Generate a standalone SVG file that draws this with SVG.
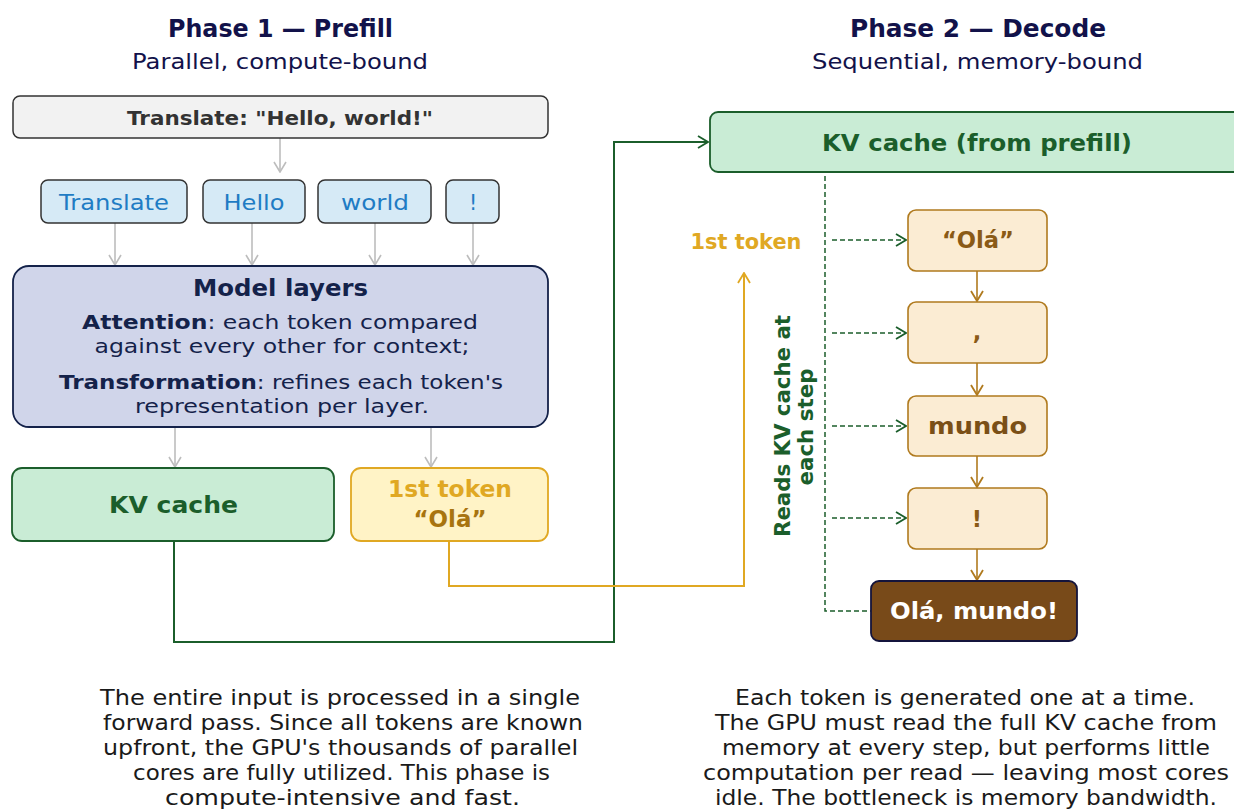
<svg xmlns="http://www.w3.org/2000/svg" width="1234" height="810" viewBox="0 0 1234 810">
  <style>
    text { font-family: "DejaVu Sans", "Noto Sans", sans-serif; text-anchor: middle; }
    .title { font-size: 24px; font-weight: bold; fill: #12124a; }
    .sub { font-size: 21px; fill: #12124a; }
    .cap { font-size: 20.5px; fill: #1a1a1a; }
    .body { font-size: 19.5px; }
    .tok { font-size: 20.5px; fill: #1f7cc4; }
    .navy { fill: #14224a; }
    .b { font-weight: bold; }
    .lbl { font-size: 22.5px; font-weight: bold; }
    .grey { stroke: #bdbdbd; stroke-width: 1.6; fill: none; }
    .green { stroke: #1b5e2b; stroke-width: 2; fill: none; }
    .gold { stroke: #e0a823; stroke-width: 2; fill: none; }
    .brown { stroke: #b07a1e; stroke-width: 1.6; fill: none; }
    .dash { stroke: #1b5e2b; stroke-width: 1.5; fill: none; stroke-dasharray: 5 3; }
  </style>
  <defs>
    <marker id="ah-grey" viewBox="0 0 12 14" refX="11" refY="7" markerWidth="12" markerHeight="14" markerUnits="userSpaceOnUse" orient="auto">
      <path d="M1,1 L11,7 L1,13" fill="none" stroke="#bdbdbd" stroke-width="1.6"/>
    </marker>
    <marker id="ah-green" viewBox="0 0 12 14" refX="11" refY="7" markerWidth="12" markerHeight="14" markerUnits="userSpaceOnUse" orient="auto">
      <path d="M1,1 L11,7 L1,13" fill="none" stroke="#1b5e2b" stroke-width="1.8"/>
    </marker>
    <marker id="ah-gold" viewBox="0 0 12 14" refX="11" refY="7" markerWidth="12" markerHeight="14" markerUnits="userSpaceOnUse" orient="auto">
      <path d="M1,1 L11,7 L1,13" fill="none" stroke="#e0a823" stroke-width="1.8"/>
    </marker>
    <marker id="ah-brown" viewBox="0 0 12 14" refX="11" refY="7" markerWidth="12" markerHeight="14" markerUnits="userSpaceOnUse" orient="auto">
      <path d="M1,1 L11,7 L1,13" fill="none" stroke="#b07a1e" stroke-width="1.8"/>
    </marker>
  </defs>

  <rect width="1234" height="810" fill="#ffffff"/>

  <!-- Headings -->
  <g id="headings">
    <text class="title" x="280.5" y="37" textLength="225" lengthAdjust="spacingAndGlyphs">Phase 1 — Prefill</text>
    <text class="sub" x="280" y="69" textLength="296" lengthAdjust="spacingAndGlyphs">Parallel, compute-bound</text>
    <text class="title" x="978" y="37" textLength="256" lengthAdjust="spacingAndGlyphs">Phase 2 — Decode</text>
    <text class="sub" x="977.5" y="69" textLength="331" lengthAdjust="spacingAndGlyphs">Sequential, memory-bound</text>
  </g>

  <!-- Connectors -->
  <g id="connectors">
    <line class="grey" x1="280" y1="138" x2="280" y2="172" marker-end="url(#ah-grey)"/>
    <line class="grey" x1="115" y1="223" x2="115" y2="265" marker-end="url(#ah-grey)"/>
    <line class="grey" x1="252" y1="223" x2="252" y2="265" marker-end="url(#ah-grey)"/>
    <line class="grey" x1="375" y1="223" x2="375" y2="265" marker-end="url(#ah-grey)"/>
    <line class="grey" x1="473" y1="223" x2="473" y2="265" marker-end="url(#ah-grey)"/>
    <line class="grey" x1="175" y1="427" x2="175" y2="467" marker-end="url(#ah-grey)"/>
    <line class="grey" x1="431" y1="427" x2="431" y2="467" marker-end="url(#ah-grey)"/>
    <!-- KV cache handed over to decode -->
    <polyline class="green" points="174,541 174,642 614,642 614,142 708,142" marker-end="url(#ah-green)"/>
    <!-- first token handed over to decode -->
    <polyline class="gold" points="449,541 449,586 744,586 744,273" marker-end="url(#ah-gold)"/>
    <!-- KV cache reads per step -->
    <polyline class="dash" points="825,176 825,611 871,611"/>
    <line class="dash" x1="832" y1="240" x2="906" y2="240" marker-end="url(#ah-green)"/>
    <line class="dash" x1="832" y1="333" x2="906" y2="333" marker-end="url(#ah-green)"/>
    <line class="dash" x1="832" y1="426" x2="906" y2="426" marker-end="url(#ah-green)"/>
    <line class="dash" x1="832" y1="518" x2="906" y2="518" marker-end="url(#ah-green)"/>
    <!-- decode chain -->
    <line class="brown" x1="977" y1="271" x2="977" y2="301" marker-end="url(#ah-brown)"/>
    <line class="brown" x1="977" y1="363" x2="977" y2="395" marker-end="url(#ah-brown)"/>
    <line class="brown" x1="977" y1="456" x2="977" y2="487" marker-end="url(#ah-brown)"/>
    <line class="brown" x1="977" y1="549" x2="977" y2="580" marker-end="url(#ah-brown)"/>
  </g>

  <!-- Prefill nodes -->
  <g id="input">
    <rect x="13" y="96" width="535" height="42" rx="7" fill="#f2f2f2" stroke="#333333" stroke-width="1.5"/>
    <text x="280" y="125" font-size="20" font-weight="bold" fill="#333333" textLength="306" lengthAdjust="spacingAndGlyphs">Translate: "Hello, world!"</text>
  </g>
  <g id="tok-translate">
    <rect x="41" y="180" width="146" height="43" rx="7" fill="#d6eaf6" stroke="#333333" stroke-width="1.5"/>
    <text class="tok" x="114" y="210" textLength="110" lengthAdjust="spacingAndGlyphs">Translate</text>
  </g>
  <g id="tok-hello">
    <rect x="203" y="180" width="102" height="43" rx="7" fill="#d6eaf6" stroke="#333333" stroke-width="1.5"/>
    <text class="tok" x="254" y="210" textLength="61" lengthAdjust="spacingAndGlyphs">Hello</text>
  </g>
  <g id="tok-world">
    <rect x="318" y="180" width="113" height="43" rx="7" fill="#d6eaf6" stroke="#333333" stroke-width="1.5"/>
    <text class="tok" x="375" y="210" textLength="68" lengthAdjust="spacingAndGlyphs">world</text>
  </g>
  <g id="tok-bang">
    <rect x="446" y="180" width="53" height="43" rx="7" fill="#d6eaf6" stroke="#333333" stroke-width="1.5"/>
    <text class="tok" x="473" y="210">!</text>
  </g>
  <g id="model-layers">
    <rect x="13" y="266" width="535" height="161" rx="16" fill="#d0d5ea" stroke="#14224a" stroke-width="1.8"/>
    <text class="navy lbl" x="280.5" y="296" font-size="24" textLength="175" lengthAdjust="spacingAndGlyphs">Model layers</text>
    <text class="navy body" x="280" y="329" textLength="396" lengthAdjust="spacingAndGlyphs"><tspan class="b">Attention</tspan>: each token compared</text>
    <text class="navy body" x="282" y="353" textLength="375" lengthAdjust="spacingAndGlyphs">against every other for context;</text>
    <text class="navy body" x="281" y="389" textLength="444" lengthAdjust="spacingAndGlyphs"><tspan class="b">Transformation</tspan>: refines each token's</text>
    <text class="navy body" x="282" y="413" textLength="294" lengthAdjust="spacingAndGlyphs">representation per layer.</text>
  </g>
  <g id="kv-cache">
    <rect x="12" y="468" width="322" height="73" rx="10" fill="#c9ecd5" stroke="#1b5e2b" stroke-width="1.8"/>
    <text class="lbl" x="173.5" y="513" fill="#1b5e2b" textLength="129" lengthAdjust="spacingAndGlyphs">KV cache</text>
  </g>
  <g id="first-token">
    <rect x="351" y="468" width="197" height="73" rx="10" fill="#fff3c6" stroke="#e0a823" stroke-width="1.8"/>
    <text class="lbl" x="450" y="497" fill="#e0a823" textLength="124" lengthAdjust="spacingAndGlyphs">1st token</text>
    <text class="lbl" x="450" y="527" fill="#a8740f" textLength="73" lengthAdjust="spacingAndGlyphs">“Olá”</text>
  </g>

  <!-- Decode nodes -->
  <g id="kv-from-prefill">
    <rect x="710" y="112" width="540" height="60" rx="8" fill="#c9ecd5" stroke="#1b5e2b" stroke-width="1.8"/>
    <text class="lbl" x="977" y="151" fill="#1b5e2b" textLength="310" lengthAdjust="spacingAndGlyphs">KV cache (from prefill)</text>
  </g>
  <g id="first-token-label">
    <text x="746" y="249" font-size="21" font-weight="bold" fill="#e0a823" textLength="111" lengthAdjust="spacingAndGlyphs">1st token</text>
  </g>
  <g id="reads-label">
    <text transform="translate(790,426) rotate(-90)" font-size="21" font-weight="bold" fill="#1b5e2b" textLength="222" lengthAdjust="spacingAndGlyphs">Reads KV cache at</text>
    <text transform="translate(813,427) rotate(-90)" font-size="21" font-weight="bold" fill="#1b5e2b" textLength="117" lengthAdjust="spacingAndGlyphs">each step</text>
  </g>
  <g id="step-ola">
    <rect x="908" y="210" width="139" height="61" rx="8" fill="#fbecd3" stroke="#b07a1e" stroke-width="1.6"/>
    <text class="lbl" x="978" y="248" fill="#8a5a16" textLength="72" lengthAdjust="spacingAndGlyphs">“Olá”</text>
  </g>
  <g id="step-comma">
    <rect x="908" y="302" width="139" height="61" rx="8" fill="#fbecd3" stroke="#b07a1e" stroke-width="1.6"/>
    <text class="lbl" x="977" y="340" fill="#8a5a16">,</text>
  </g>
  <g id="step-mundo">
    <rect x="908" y="396" width="139" height="60" rx="8" fill="#fbecd3" stroke="#b07a1e" stroke-width="1.6"/>
    <text class="lbl" x="977.5" y="434" fill="#7a4f16" textLength="99" lengthAdjust="spacingAndGlyphs">mundo</text>
  </g>
  <g id="step-bang">
    <rect x="908" y="488" width="139" height="61" rx="8" fill="#fbecd3" stroke="#b07a1e" stroke-width="1.6"/>
    <text class="lbl" x="977" y="527" fill="#8a5a16">!</text>
  </g>
  <g id="output">
    <rect x="871" y="581" width="206" height="60" rx="8" fill="#784a19" stroke="#14143c" stroke-width="1.8"/>
    <text class="lbl" x="974" y="619" fill="#ffffff" textLength="168" lengthAdjust="spacingAndGlyphs">Olá, mundo!</text>
  </g>

  <!-- Captions -->
  <g id="caption-prefill">
    <text class="cap" x="340" y="705" textLength="480" lengthAdjust="spacingAndGlyphs">The entire input is processed in a single</text>
    <text class="cap" x="343" y="730" textLength="480" lengthAdjust="spacingAndGlyphs">forward pass. Since all tokens are known</text>
    <text class="cap" x="340.5" y="755" textLength="475" lengthAdjust="spacingAndGlyphs">upfront, the GPU's thousands of parallel</text>
    <text class="cap" x="341.5" y="780" textLength="417" lengthAdjust="spacingAndGlyphs">cores are fully utilized. This phase is</text>
    <text class="cap" x="342.5" y="805" textLength="355" lengthAdjust="spacingAndGlyphs">compute-intensive and fast.</text>
  </g>
  <g id="caption-decode">
    <text class="cap" x="965" y="705" textLength="460" lengthAdjust="spacingAndGlyphs">Each token is generated one at a time.</text>
    <text class="cap" x="966" y="730" textLength="502" lengthAdjust="spacingAndGlyphs">The GPU must read the full KV cache from</text>
    <text class="cap" x="966" y="755" textLength="488" lengthAdjust="spacingAndGlyphs">memory at every step, but performs little</text>
    <text class="cap" x="966" y="780" textLength="526" lengthAdjust="spacingAndGlyphs">computation per read — leaving most cores</text>
    <text class="cap" x="966" y="805" textLength="502" lengthAdjust="spacingAndGlyphs">idle. The bottleneck is memory bandwidth.</text>
  </g>
</svg>
